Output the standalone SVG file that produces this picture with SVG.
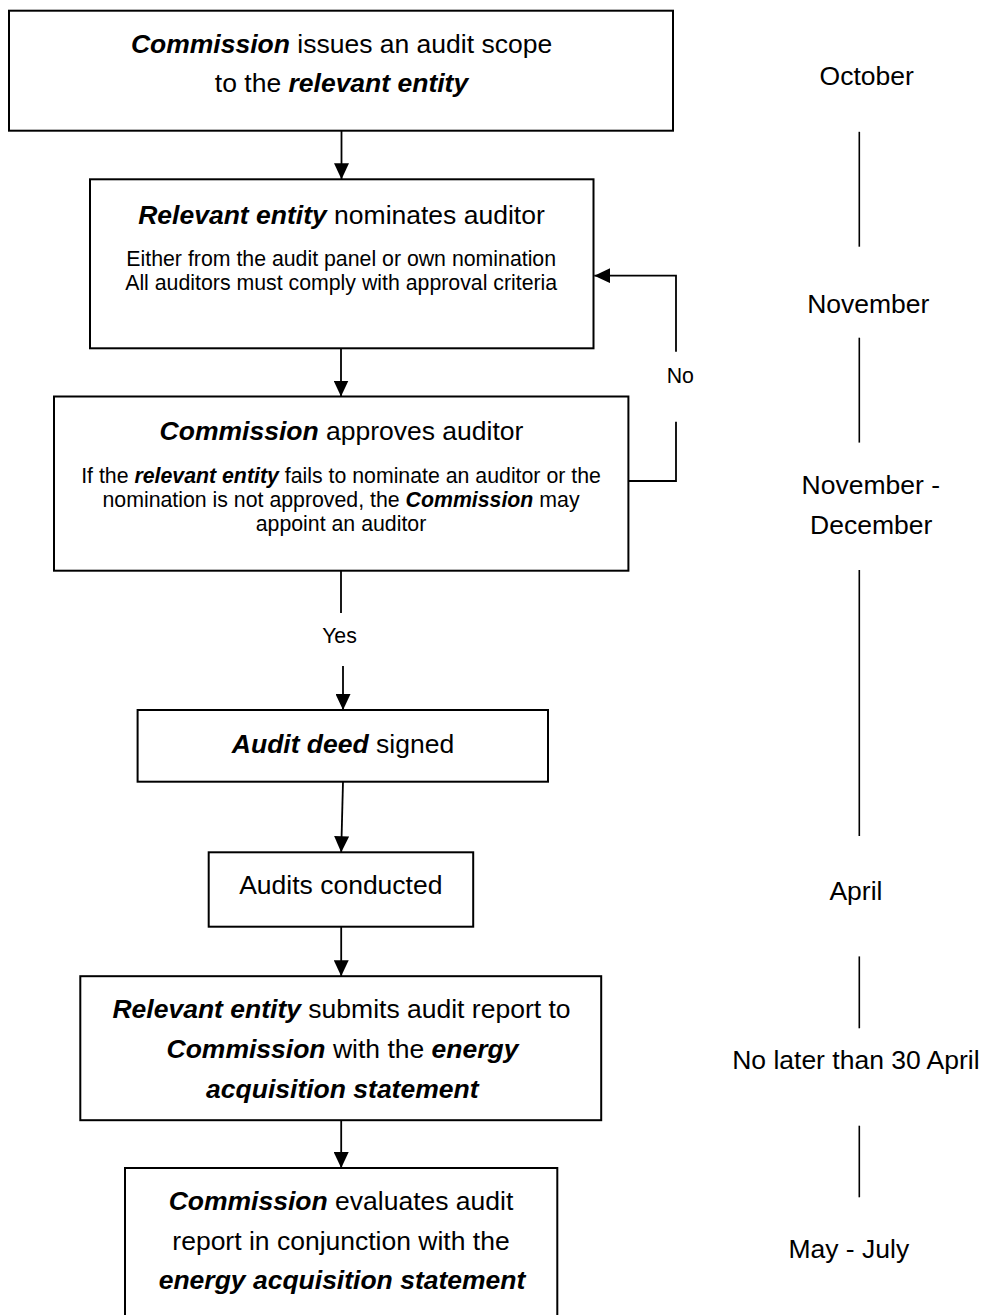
<svg xmlns="http://www.w3.org/2000/svg" width="984" height="1315" viewBox="0 0 984 1315">
<style>
  .box { fill: #ffffff; stroke: #000000; stroke-width: 2; }
  .t { font-family: "Liberation Sans", Arial, sans-serif; font-size: 26.5px; fill: #000000; text-anchor: middle; }
  .s { font-family: "Liberation Sans", Arial, sans-serif; font-size: 21.3px; fill: #000000; text-anchor: middle; }
  .b { font-weight: bold; font-style: italic; }
  .conn { fill: none; stroke: #000000; stroke-width: 1.8; }
  .tl { fill: none; stroke: #000000; stroke-width: 1.6; }
</style>
<defs>
  <marker id="ah" markerUnits="userSpaceOnUse" markerWidth="16" markerHeight="15" refX="16" refY="7.5" orient="auto" viewBox="0 0 16 15">
    <path d="M0,0 L16,7.5 L0,15 z" fill="#000000"/>
  </marker>
</defs>
<rect x="0" y="0" width="984" height="1315" fill="#ffffff"/>

<g id="connectors">
  <line class="conn" x1="341.5" y1="130.7" x2="341.5" y2="179.3" marker-end="url(#ah)"/>
  <line class="conn" x1="341" y1="348.3" x2="341" y2="396.5" marker-end="url(#ah)"/>
  <line class="conn" x1="341" y1="570.7" x2="341" y2="613"/>
  <line class="conn" x1="343" y1="666" x2="343" y2="710" marker-end="url(#ah)"/>
  <line class="conn" x1="343" y1="781.7" x2="341.2" y2="852.3" marker-end="url(#ah)"/>
  <line class="conn" x1="341.2" y1="926.7" x2="341.2" y2="976.2" marker-end="url(#ah)"/>
  <line class="conn" x1="341.2" y1="1120.2" x2="341.2" y2="1168" marker-end="url(#ah)"/>
  <polyline class="conn" points="628.4,481 676,481 676,421.7"/>
  <polyline class="conn" points="676,351.7 676,275.7 594.3,275.7" marker-end="url(#ah)"/>
  <text class="s" x="680.3" y="382.7">No</text>
  <text class="s" x="339.5" y="643.3">Yes</text>
</g>

<g id="node-scope">
  <rect class="box" x="9" y="10.7" width="664" height="120"/>
  <text class="t" x="341.5" y="52.7"><tspan class="b">Commission</tspan> issues an audit scope</text>
  <text class="t" x="341.5" y="92.3">to the <tspan class="b">relevant entity</tspan></text>
</g>

<g id="node-nominate">
  <rect class="box" x="90" y="179.3" width="503.5" height="169"/>
  <text class="t" x="341.5" y="224.3"><tspan class="b">Relevant entity</tspan> nominates auditor</text>
  <text class="s" x="341.2" y="265.7">Either from the audit panel or own nomination</text>
  <text class="s" x="341.2" y="290">All auditors must comply with approval criteria</text>
</g>

<g id="node-approve">
  <rect class="box" x="54" y="396.5" width="574.4" height="174.2"/>
  <text class="t" x="341.5" y="440"><tspan class="b">Commission</tspan> approves auditor</text>
  <text class="s" x="341" y="483.3">If the <tspan class="b">relevant entity</tspan> fails to nominate an auditor or the</text>
  <text class="s" x="341" y="507.3">nomination is not approved, the <tspan class="b">Commission</tspan> may</text>
  <text class="s" x="341" y="530.7">appoint an auditor</text>
</g>

<g id="node-deed">
  <rect class="box" x="137.6" y="710" width="410.4" height="71.7"/>
  <text class="t" x="343" y="752.7"><tspan class="b">Audit deed</tspan> signed</text>
</g>

<g id="node-conducted">
  <rect class="box" x="208.7" y="852.3" width="264.5" height="74.4"/>
  <text class="t" x="340.8" y="893.6">Audits conducted</text>
</g>

<g id="node-submit">
  <rect class="box" x="80.3" y="976.2" width="520.9" height="144"/>
  <text class="t" x="341.5" y="1017.9"><tspan class="b">Relevant entity</tspan> submits audit report to</text>
  <text class="t" x="342.5" y="1058.1"><tspan class="b">Commission</tspan> with the <tspan class="b">energy</tspan></text>
  <text class="t" x="342.3" y="1098"><tspan class="b">acquisition statement</tspan></text>
</g>

<g id="node-evaluate">
  <rect class="box" x="125" y="1168" width="432.3" height="160"/>
  <text class="t" x="341" y="1210"><tspan class="b">Commission</tspan> evaluates audit</text>
  <text class="t" x="341" y="1249.5">report in conjunction with the</text>
  <text class="t" x="342" y="1288.5"><tspan class="b">energy acquisition statement</tspan></text>
</g>

<g id="timeline">
  <text class="t" x="866.7" y="84.8">October</text>
  <line class="tl" x1="859.3" y1="131.8" x2="859.3" y2="246.7"/>
  <text class="t" x="868.3" y="312.5">November</text>
  <line class="tl" x1="859.3" y1="337.7" x2="859.3" y2="442.6"/>
  <text class="t" x="870.8" y="494">November -</text>
  <text class="t" x="871.2" y="533.5">December</text>
  <line class="tl" x1="859.3" y1="570" x2="859.3" y2="835.9"/>
  <text class="t" x="855.9" y="900.4">April</text>
  <line class="tl" x1="859.3" y1="956.4" x2="859.3" y2="1028.3"/>
  <text class="t" x="855.9" y="1069">No later than 30 April</text>
  <line class="tl" x1="859.3" y1="1125.7" x2="859.3" y2="1197.3"/>
  <text class="t" x="848.8" y="1258.3">May - July</text>
</g>
</svg>
